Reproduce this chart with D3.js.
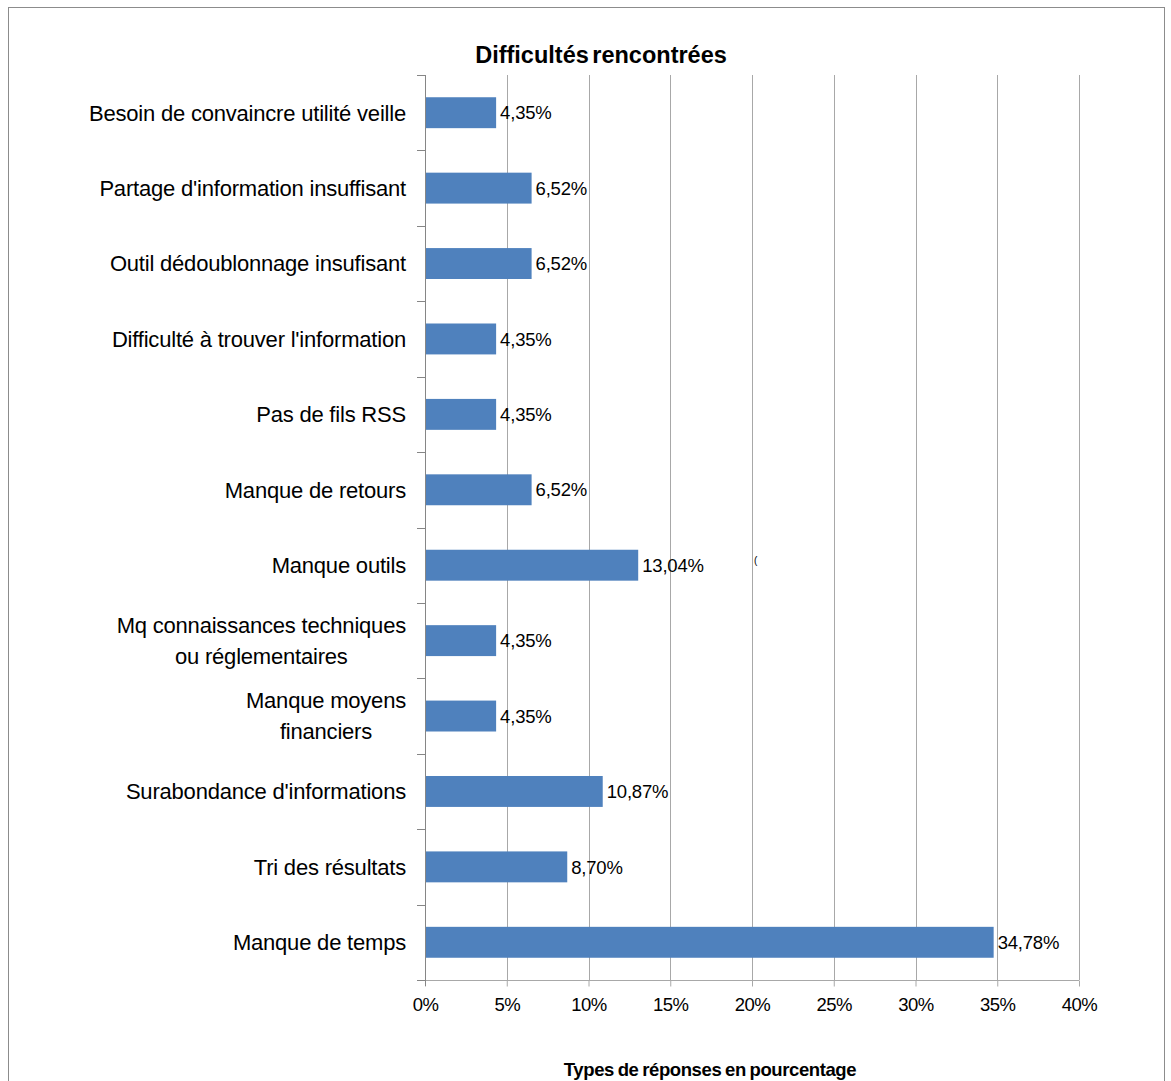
<!DOCTYPE html>
<html>
<head>
<meta charset="utf-8">
<script src="https://cdn.jsdelivr.net/npm/d3@7"></script>
<style>
  html, body { margin: 0; padding: 0; background: #fff; }
  svg { display: block; }
  text { font-family: "Liberation Sans", Arial, sans-serif; fill: #000; }
</style>
</head>
<body>
<svg id="chart" width="1171" height="1081"></svg>
<script>
// Categories, top to bottom; "\n" splits a label over two lines
const categories = [
  "Besoin de convaincre utilité veille",
  "Partage d'information insuffisant",
  "Outil dédoublonnage insufisant",
  "Difficulté à trouver l'information",
  "Pas de fils RSS",
  "Manque de retours",
  "Manque outils",
  "Mq connaissances techniques\nou réglementaires",
  "Manque moyens\nfinanciers",
  "Surabondance d'informations",
  "Tri des résultats",
  "Manque de temps"
];
// Share of answers, in percent
const values = [4.35, 6.52, 6.52, 4.35, 4.35, 6.52, 13.04, 4.35, 4.35, 10.87, 8.70, 34.78];
const xTicks = [0, 5, 10, 15, 20, 25, 30, 35, 40];
const titleText = "Difficultés rencontrées";
const axisTitleText = "Types de réponses en pourcentage";

const svg = d3.select("#chart");
const plot = { left: 425, right: 1079, top: 75, bottom: 980 };

const x = d3.scaleLinear().domain([0, 40]).range([plot.left, plot.right]);
const y = d3.scaleBand().domain(categories).range([plot.top, plot.bottom]).paddingInner(0.59).paddingOuter(0.295);

const fmt = v => v.toFixed(2).replace(".", ",") + "%";

// outer frame
svg.append("rect")
  .attr("x", 8.5).attr("y", 7.5).attr("width", 1156).attr("height", 1090)
  .attr("fill", "none").attr("stroke", "#8c8c8c").attr("stroke-width", 1);

// title
svg.append("text")
  .attr("x", 601).attr("y", 63)
  .attr("text-anchor", "middle")
  .attr("font-size", 23.5).attr("font-weight", "bold")
  .attr("letter-spacing", 0).attr("word-spacing", -3)
  .text(titleText);

// vertical gridlines
svg.append("g")
  .selectAll("line")
  .data(xTicks.filter(d => d > 0))
  .join("line")
  .attr("x1", d => Math.round(x(d)) + 0.5).attr("x2", d => Math.round(x(d)) + 0.5)
  .attr("y1", plot.top).attr("y2", plot.bottom)
  .attr("stroke", "#a8a8a8").attr("stroke-width", 1);

// bars
svg.append("g")
  .selectAll("rect")
  .data(values)
  .join("rect")
  .attr("x", x(0))
  .attr("y", (d, i) => y(categories[i]))
  .attr("width", d => x(d) - x(0))
  .attr("height", y.bandwidth())
  .attr("fill", "#4f81bd");

// value labels
svg.append("g")
  .selectAll("text")
  .data(values)
  .join("text")
  .attr("x", d => x(d) + 4)
  .attr("y", (d, i) => y(categories[i]) + y.bandwidth() / 2)
  .attr("dy", "0.36em")
  .attr("font-size", 18.5)
  .attr("letter-spacing", -0.2)
  .text(d => fmt(d));

// bottom axis
const xAxis = d3.axisBottom(x)
  .tickValues(xTicks)
  .tickSize(6)
  .tickFormat(d => d + "%");
const gx = svg.append("g")
  .attr("transform", `translate(0,${plot.bottom + 0.5})`)
  .call(xAxis);
gx.select(".domain").attr("stroke", "#a8a8a8").attr("d", `M${plot.left},0H${plot.right}`);
gx.selectAll(".tick line").attr("stroke", "#a8a8a8");
gx.selectAll(".tick text")
  .attr("y", 24).attr("dy", "0.36em")
  .attr("font-size", 18.5).attr("letter-spacing", -0.5)
  .attr("font-family", "Liberation Sans, Arial, sans-serif").attr("fill", "#000");

// left axis: line plus ticks on band boundaries
const gy = svg.append("g");
gy.append("line")
  .attr("x1", plot.left + 0.5).attr("x2", plot.left + 0.5)
  .attr("y1", plot.top).attr("y2", plot.bottom + 6)
  .attr("stroke", "#868686");
const boundaries = categories.map(c => y(c) - y.step() * y.paddingInner() / 2).concat([plot.bottom]);
gy.selectAll("line.tk")
  .data(boundaries)
  .join("line")
  .attr("class", "tk")
  .attr("x1", plot.left - 8).attr("x2", plot.left)
  .attr("y1", d => Math.round(d) + 0.5).attr("y2", d => Math.round(d) + 0.5)
  .attr("stroke", "#868686");

// category labels, right-aligned; wrapped labels are centred on their widest line
const labelRight = 406;
categories.forEach(c => {
  const lines = c.split("\n");
  const cy = y(c) + y.bandwidth() / 2;
  const t = svg.append("text")
    .attr("font-size", 22)
    .attr("letter-spacing", -0.2);
  const lh = 31;
  lines.forEach((ln, j) => {
    t.append("tspan")
      .attr("y", cy + (j - (lines.length - 1) / 2) * lh)
      .attr("dy", "0.36em")
      .text(ln);
  });
  if (lines.length === 1) {
    t.attr("text-anchor", "end");
    t.selectAll("tspan").attr("x", labelRight);
  } else {
    const widths = [];
    t.selectAll("tspan").each(function () { widths.push(this.getComputedTextLength()); });
    const w = d3.max(widths);
    t.attr("text-anchor", "middle");
    t.selectAll("tspan").attr("x", labelRight - w / 2);
  }
});

// small stray mark beside the chart body
svg.append("text")
  .attr("x", 754).attr("y", 564)
  .attr("font-size", 10)
  .text("(");

// axis title
svg.append("text")
  .attr("x", 710).attr("y", 1076)
  .attr("text-anchor", "middle")
  .attr("font-size", 18.5).attr("font-weight", "bold")
  .attr("letter-spacing", -0.4).attr("word-spacing", -1)
  .text(axisTitleText);
</script>
</body>
</html>
